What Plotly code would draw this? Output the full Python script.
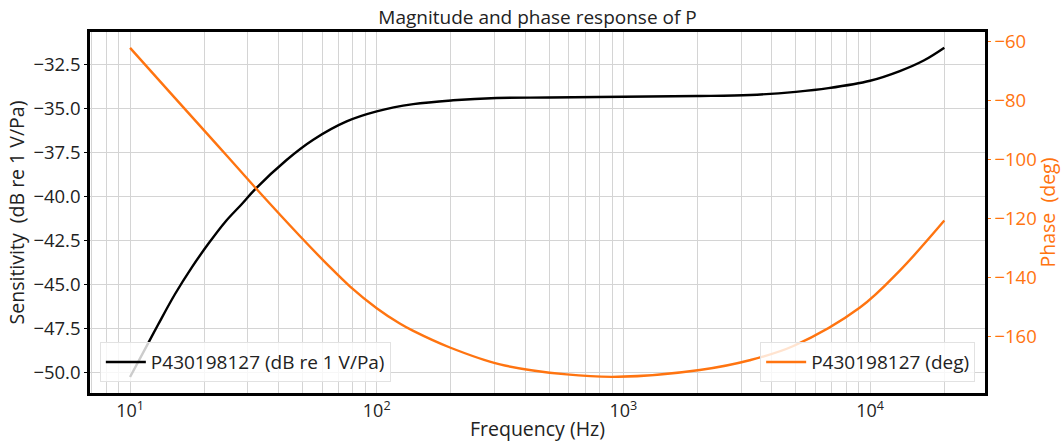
import plotly.graph_objects as go

freq_mag = [10, 11.7, 13.0, 15.2, 17.8, 20.8, 24.3, 28.4, 32.1, 43.1, 55.3, 75.5, 100,
            140.6, 204, 306, 500, 1000, 2000, 3270, 5000, 6780, 10000, 13200, 16500, 20000]
magnitude_db = [-50.28, -48.50, -47.30, -45.58, -44.05, -42.70, -41.47, -40.45, -39.62,
                -37.95, -36.80, -35.76, -35.19, -34.78, -34.56, -34.43, -34.40, -34.36,
                -34.32, -34.26, -34.08, -33.87, -33.45, -32.90, -32.30, -31.57]

freq_ph = [10, 15, 20, 25, 32.7, 48.9, 63, 78, 100, 124, 140, 198, 316,
           589, 950, 2040, 3250, 4890, 9100, 13200, 20000]
phase_deg = [-62.3, -78.7, -90.3, -99.3, -110.2, -126.0, -135.5, -143.0,
             -150.3, -155.5, -157.9, -163.6, -169.3, -172.7, -173.5, -171.2, -167.9,
             -163.1, -150.1, -137.6, -120.7]

mag_name = "P430198127 (dB re 1 V/Pa)"
phase_name = "P430198127 (deg)"
title_text = "Magnitude and phase response of P"

decade_labels = {10: "10<sup>1</sup>", 100: "10<sup>2</sup>",
                 1000: "10<sup>3</sup>", 10000: "10<sup>4</sup>"}
grid_vals = [m * 10 ** e for e in range(0, 5) for m in range(1, 10)]
grid_vals = [v for v in grid_vals if 6.5 <= v <= 30000]
grid_text = [decade_labels.get(v, "") for v in grid_vals]

ORANGE = "#ff7410"
FONT = "Open Sans"
TXT = "#222222"

fig = go.Figure()
fig.add_trace(go.Scatter(x=freq_mag, y=magnitude_db, name=mag_name, mode="lines",
                         line=dict(color="black", width=2.4, shape="spline", smoothing=1.0),
                         legend="legend"))
fig.add_trace(go.Scatter(x=freq_ph, y=phase_deg, name=phase_name, mode="lines",
                         line=dict(color=ORANGE, width=2.4, shape="spline", smoothing=1.0),
                         yaxis="y2", legend="legend2"))

fig.update_layout(
    width=1061, height=443,
    margin=dict(l=90, r=76, t=32, b=50, autoexpand=False),
    paper_bgcolor="white", plot_bgcolor="white",
    font=dict(family=FONT, size=18, color=TXT),
    title=dict(text=title_text, x=(90 + 985) / 2 / 1061, xanchor="center",
               y=1 - 17 / 443, yanchor="middle", font=dict(size=19, color=TXT)),
    xaxis=dict(type="log", range=[0.8376, 4.466], automargin=False,
               tickvals=grid_vals, ticktext=grid_text,
               showgrid=True, gridcolor="#d4d4d4", gridwidth=1.4,
               showline=True, linecolor="black", linewidth=2.5, mirror=True,
               ticks="", zeroline=False,
               title=dict(text="Frequency (Hz)", standoff=2, font=dict(size=19.5, color=TXT)),
               tickfont=dict(size=18, color=TXT)),
    yaxis=dict(range=[-51.19, -30.68], automargin=False,
               tickvals=[-50, -47.5, -45, -42.5, -40, -37.5, -35, -32.5],
               tickformat=".1f",
               showgrid=True, gridcolor="#d4d4d4", gridwidth=1.4,
               showline=True, linecolor="black", linewidth=2.5,
               ticks="outside", ticklen=3, tickcolor="black", zeroline=False,
               title=dict(text="Sensitivity  (dB re 1 V/Pa)", standoff=4,
                          font=dict(size=19.5, color=TXT)),
               tickfont=dict(size=18.5, color=TXT)),
    yaxis2=dict(range=[-178.98, -56.95], overlaying="y", side="right", automargin=False,
                tickvals=[-160, -140, -120, -100, -80, -60],
                showgrid=False, showline=True, linecolor="black", linewidth=2.5,
                ticks="outside", ticklen=3, tickcolor=ORANGE, zeroline=False,
                tickfont=dict(size=18.5, color=ORANGE),
                title=dict(text="Phase  (deg)", standoff=4, font=dict(size=19.5, color=ORANGE))),
    legend=dict(x=0.011, y=0.03, xanchor="left", yanchor="bottom",
                bgcolor="rgba(255,255,255,0.8)", bordercolor="#e2e2e2", borderwidth=1,
                font=dict(size=19, color=TXT), itemwidth=40),
    legend2=dict(x=0.989, y=0.03, xanchor="right", yanchor="bottom",
                 bgcolor="rgba(255,255,255,0.8)", bordercolor="#e2e2e2", borderwidth=1,
                 font=dict(size=19, color=TXT), itemwidth=40),
    showlegend=True,
)

fig.write_html("out.html", config={"displayModeBar": False},
               post_script="document.body.style.margin='0';document.body.style.overflow='hidden';")
